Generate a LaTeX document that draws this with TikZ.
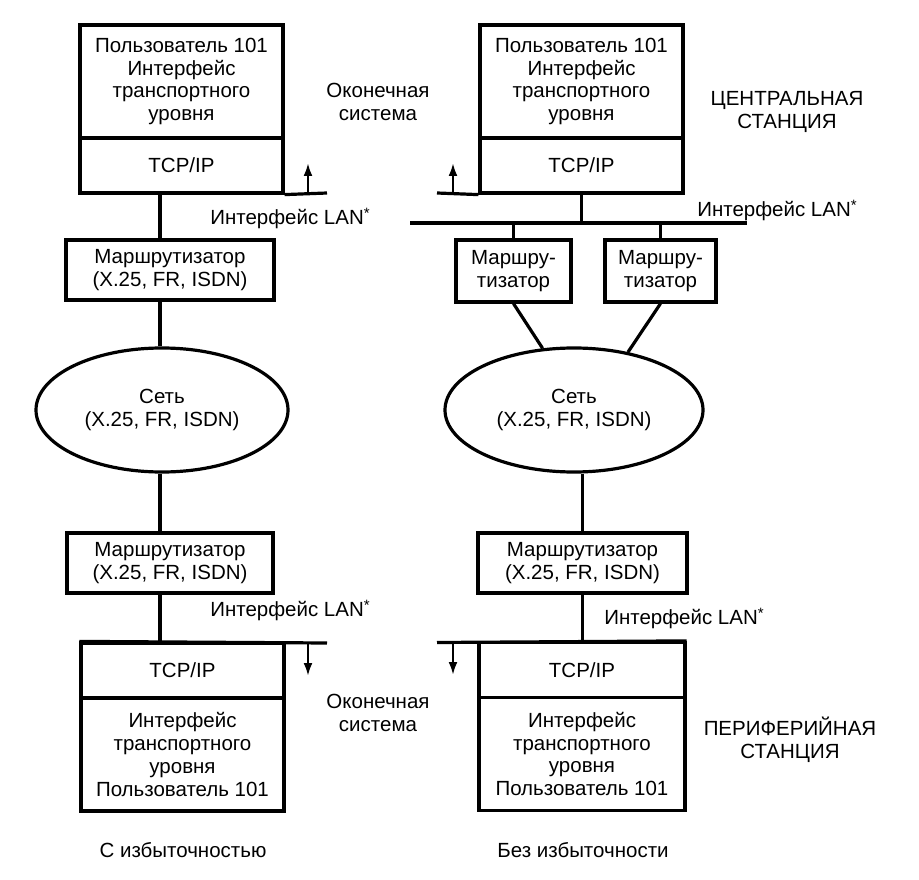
\documentclass[tikz,border=0pt]{standalone}
\usepackage{fontspec}
\setmainfont{Liberation Sans}
\usetikzlibrary{shapes.geometric,arrows.meta}
\newcommand{\lanstar}{\raisebox{6pt}{\fontsize{15}{15}\selectfont*}}
\begin{document}
\begin{tikzpicture}[x=1pt,y=-1pt,
  every node/.style={font=\fontsize{20.5}{22.7}\selectfont, align=center, inner sep=0pt, text=black},
  blk/.style n args={2}{draw, line width=3.2pt, minimum width=#1, minimum height=#2},
  net/.style n args={2}{draw, ellipse, line width=3.2pt, minimum width=#1, minimum height=#2},
  ln/.style={line width=3.2pt},
  upar/.style={line width=2.4pt, -{Latex[length=13pt,width=9pt]}}]
\useasboundingbox[fill=white] (0,0) rectangle (919,880);

% ---- left column (with redundancy)
\node[blk={203}{113}] (uL) at (181.5,81.5) {Пользователь 101\\Интерфейс\\транспортного\\уровня};
\node[blk={203}{55}] (tL) at (181.5,165.5) {TCP/IP};
\node[blk={208}{60}] (rL1) at (170,270) {Маршрутизатор\\(X.25, FR, ISDN)};
\node[net={252}{124}] (eL) at (162,410) {Сеть\\(X.25, FR, ISDN)};
\node[blk={206}{60}] (rL2) at (170,563) {Маршрутизатор\\(X.25, FR, ISDN)};
\node[blk={203}{55}] (tBL) at (182.5,670.5) {TCP/IP};
\node[blk={203}{113}] (lBL) at (182.5,754.5) {Интерфейс\\транспортного\\уровня\\Пользователь 101};

\coordinate (xL) at (160,0);
\draw[ln] (tL.south -| xL) -- (rL1.north -| xL);
\draw[ln] (rL1.south -| xL) -- (eL.north -| xL);
\draw[ln] (eL.south -| xL) -- (rL2.north -| xL);
\draw[ln] (rL2.south -| xL) -- (tBL.north -| xL);

\coordinate (lanTL) at (327,193);
\draw[ln] (tL.south east) -- (lanTL);
\coordinate (aTL0) at (308,193);
\coordinate (aTL1) at (308,163);
\draw[upar] (aTL0) -- (aTL1);

\coordinate (lanBL) at (327,643);
\draw[ln] (tBL.north west) -- (lanBL);
\coordinate (aBL0) at (308,643);
\coordinate (aBL1) at (308,676);
\draw[upar] (aBL0) -- (aBL1);

% ---- right column (without redundancy)
\node[blk={203}{113}] (uR) at (581.5,81.5) {Пользователь 101\\Интерфейс\\транспортного\\уровня};
\node[blk={203}{55}] (tR) at (581.5,165.5) {TCP/IP};
\coordinate (lanA) at (410,223);
\coordinate (lanB) at (747,223);
\draw[ln] (lanA) -- (lanB);
\draw[ln] (tR.south) -- (tR.south |- lanA);
\node[blk={115}{62}] (rRa) at (513.5,271) {Маршру-\\тизатор};
\node[blk={111}{62}] (rRb) at (660.5,271) {Маршру-\\тизатор};
\draw[ln] (rRa.north) -- (rRa.north |- lanA);
\draw[ln] (rRb.north) -- (rRb.north |- lanA);
\node[net={258}{124}] (eR) at (574,410) {Сеть\\(X.25, FR, ISDN)};
\draw[ln] (rRa.south) -- (eR.117);
\draw[ln] (rRb.south) -- (eR.47);
\node[blk={209}{60}] (rR2) at (582.5,563) {Маршрутизатор\\(X.25, FR, ISDN)};
\node[blk={206}{55}] (tBR) at (582,670) {TCP/IP};
\node[blk={206}{113}] (lBR) at (582,754) {Интерфейс\\транспортного\\уровня\\Пользователь 101};
\draw[ln] (eR.south -| rR2.north) -- (rR2.north);
\draw[ln] (rR2.south) -- (tBR.north -| rR2.south);

\coordinate (lanTR) at (437,193);
\draw[ln] (lanTR) -- (tR.south west);
\coordinate (aTR0) at (453,193);
\coordinate (aTR1) at (453,163);
\draw[upar] (aTR0) -- (aTR1);

\coordinate (lanBR) at (437,642.5);
\draw[ln] (lanBR) -- (tBR.north east);
\coordinate (aBR0) at (453,642.5);
\coordinate (aBR1) at (453,675);
\draw[upar] (aBR0) -- (aBR1);

% ---- labels
\node (lab1) at (290,218) {Интерфейс LAN\lanstar};
\node (lab2) at (777,210) {Интерфейс LAN\lanstar};
\node (lab3) at (290,610) {Интерфейс LAN\lanstar};
\node (lab4) at (684,618) {Интерфейс LAN\lanstar};
\node (os1) at (378,102) {Оконечная\\система};
\node (os2) at (378,713) {Оконечная\\система};
\node (cs) at (787,112) {ЦЕНТРАЛЬНАЯ\\СТАНЦИЯ};
\node (ps) at (790,740) {ПЕРИФЕРИЙНАЯ\\СТАНЦИЯ};
\node (c1) at (183,850) {С избыточностью};
\node (c2) at (583,850) {Без избыточности};
\end{tikzpicture}
\end{document}
